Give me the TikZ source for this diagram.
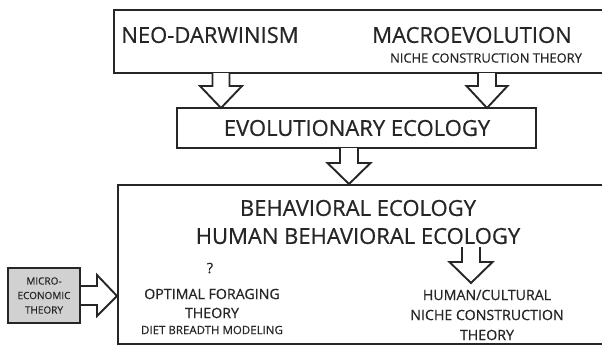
\documentclass[tikz,border=0pt]{standalone}
\usepackage{fontspec}
\setmainfont{Open Sans}[BoldFont={Open Sans},BoldFeatures={FakeBold=0.6}]
\begin{document}
\begin{tikzpicture}[x=1pt,y=-1pt,
  frame/.style={draw=black!85,line width=2.8pt},
  blockarrow/.style={draw=black!85,line width=1.9pt,fill=white,line join=miter},
  big/.style={font=\fontsize{22}{24}\selectfont\bfseries,inner sep=0pt,text=black!85},
  mid/.style={font=\fontsize{14.2}{17}\selectfont\bfseries,inner sep=0pt,text=black!85,align=center},
  small/.style={font=\fontsize{11.5}{13}\selectfont\bfseries,inner sep=0pt,text=black!85},
  tiny/.style={font=\fontsize{10}{14.5}\selectfont\bfseries,inner sep=0pt,text=black!85,align=center}]
\useasboundingbox (0,0) rectangle (602,346);
\begin{scope}
\clip (0,0) rectangle (602,346);
% top box
\draw[frame] (114,10) rectangle (610,73);
% bottom box
\draw[frame] (118,185) rectangle (610,344);
\end{scope}
\node[big] (neo) at (210,35) {NEO-DARWINISM};
\node[big] (macro) at (472,35) {MACROEVOLUTION};
\node[small,font=\fontsize{12.9}{14}\selectfont\bfseries] (nct) at (486,58) {NICHE CONSTRUCTION THEORY};
% evolutionary ecology
\node[frame,minimum width=359pt,minimum height=40pt,inner sep=0pt] (evo) at (356.5,128) {};
\node[big] (evot) at (357,128) {EVOLUTIONARY ECOLOGY};
% down arrows
\newcommand{\blkdown}[6]{% cx, y0, y1, y2, shaft half, head half
  \draw[blockarrow] (#1-#5,#2) -- (#1-#5,#3) -- (#1-#6,#3) -- (#1,#4) -- (#1+#6,#3) -- (#1+#5,#3) -- (#1+#5,#2);}
\blkdown{221}{73}{86}{108}{8.5}{21}
\blkdown{487}{73}{86}{108}{9}{20.5}
\blkdown{349}{148}{163}{184}{9}{21.5}
\blkdown{471}{247}{262}{283}{9}{21.5}
% bottom texts
\node[big] (be) at (358,208) {BEHAVIORAL ECOLOGY};
\node[big] (hbe) at (358,236) {HUMAN BEHAVIORAL ECOLOGY};
\node[mid] (q) at (210,268) {?};
\node[mid] (oft) at (212,294) {OPTIMAL FORAGING};
\node[mid] (oft2) at (212,313) {THEORY};
\node[small] (dbm) at (212,330) {DIET BREADTH MODELING};
\node[mid] (hc1) at (487,295) {HUMAN/CULTURAL};
\node[mid] (hc2) at (487,315) {NICHE CONSTRUCTION};
\node[mid] (hc3) at (487,335) {THEORY};
% micro box
\node[draw=black!85,line width=2pt,fill=black!18,minimum width=72pt,minimum height=55pt,inner sep=0pt] (micro) at (44,295.5) {};
\node[tiny] (microt) at (44,295.5) {MICRO-\\ECONOMIC\\THEORY};
\draw[blockarrow] (81,286) -- (97,286) -- (97,275) -- (117,296) -- (97,316) -- (97,305) -- (81,305);
\end{tikzpicture}
\end{document}
